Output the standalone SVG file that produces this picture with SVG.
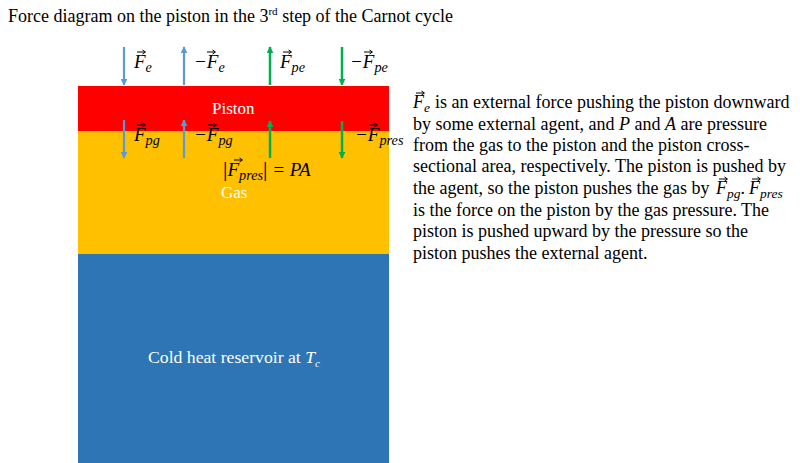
<svg xmlns="http://www.w3.org/2000/svg" width="800" height="463" viewBox="0 0 800 463">
<defs>
<marker id="hb" viewBox="0 0 10 10" refX="9" refY="5" markerWidth="7" markerHeight="7" markerUnits="userSpaceOnUse" orient="auto"><path d="M0,0 L10,5 L0,10 z" fill="#5B9BD5"/></marker>
<marker id="hg" viewBox="0 0 10 10" refX="9" refY="5" markerWidth="7" markerHeight="7" markerUnits="userSpaceOnUse" orient="auto"><path d="M0,0 L10,5 L0,10 z" fill="#00B050"/></marker>
<path id="vec" d="M0,0 H8 M5.5,-2 L8.5,0 L5.5,2" stroke="#000" stroke-width="1" fill="none"/>
</defs>
<style>
.t{font-family:"Liberation Serif",serif;fill:#000}
.w{font-family:"Liberation Serif",serif;fill:#fff}
.m{font-family:"Liberation Serif",serif;font-style:italic;fill:#000}
.bl{stroke:#5B9BD5;stroke-width:2.2;fill:none}
.gr{stroke:#00B050;stroke-width:2.5;fill:none}
.s{font-size:75%}
</style>
<rect width="800" height="463" fill="#fff"/>
<text class="t" x="8" y="22" font-size="18">Force diagram on the piston in the 3<tspan font-size="11" dy="-7">rd</tspan><tspan dy="7"> step of the Carnot cycle</tspan></text>
<g id="reservoir"><rect x="78" y="254" width="311" height="209" fill="#2E75B6"/><text class="w" x="148" y="363" font-size="17.7">Cold heat reservoir at <tspan font-style="italic">T</tspan><tspan font-style="italic" font-size="11" dy="4">c</tspan></text></g>
<g id="gas"><rect x="78" y="131" width="311" height="123" fill="#FFC000"/><text class="w" x="221" y="198" font-size="17">Gas</text></g>
<g id="piston"><rect x="78" y="86" width="311" height="45" fill="#FF0000"/><text class="w" x="212" y="114" font-size="17">Piston</text></g>
<g id="connectors">
<line class="bl" x1="124" y1="47" x2="124" y2="85" marker-end="url(#hb)"/>
<line class="bl" x1="184" y1="85" x2="184" y2="47" marker-end="url(#hb)"/>
<line class="gr" x1="270" y1="85" x2="270" y2="47" marker-end="url(#hg)"/>
<line class="gr" x1="342" y1="47" x2="342" y2="85" marker-end="url(#hg)"/>
<line class="bl" x1="124" y1="120" x2="124" y2="158" marker-end="url(#hb)"/>
<line class="bl" x1="184" y1="158" x2="184" y2="120" marker-end="url(#hb)"/>
<line class="gr" x1="270" y1="158" x2="270" y2="121" marker-end="url(#hg)"/>
<line class="gr" x1="342" y1="121" x2="342" y2="158" marker-end="url(#hg)"/>
</g>
<g id="labels" font-size="19">
<text class="m" x="134" y="68">F<tspan class="s" dy="4">e</tspan></text><use href="#vec" x="137" y="52"/>
<text class="m" x="194" y="68">−F<tspan class="s" dy="4">e</tspan></text><use href="#vec" x="207" y="52"/>
<text class="m" x="280" y="68">F<tspan class="s" dy="4">pe</tspan></text><use href="#vec" x="283" y="52"/>
<text class="m" x="350" y="68">−F<tspan class="s" dy="4">pe</tspan></text><use href="#vec" x="364" y="52"/>
<text class="m" x="134" y="141">F<tspan class="s" dy="4">pg</tspan></text><use href="#vec" x="137" y="125"/>
<text class="m" x="194" y="141">−F<tspan class="s" dy="4">pg</tspan></text><use href="#vec" x="208" y="125"/>
<text class="m" x="355" y="141">−F<tspan class="s" dy="4">pres</tspan></text><use href="#vec" x="369" y="125"/>
<text class="m" x="223" y="176"><tspan font-size="22" font-style="normal">|</tspan>F<tspan class="s" dy="4">pres</tspan><tspan font-size="22" font-style="normal" dy="-4">|</tspan> = PA</text><use href="#vec" x="234" y="160"/>
</g>
<g id="description" class="t" font-size="18">
<text class="m" x="413" y="108">F<tspan class="s" dy="4">e</tspan></text><use href="#vec" x="416" y="93"/>
<text x="435" y="108">is an external force pushing the piston downward</text>
<text x="413" y="129.5">by some external agent, and <tspan font-style="italic">P</tspan> and <tspan font-style="italic">A</tspan> are pressure</text>
<text x="413" y="150.5">from the gas to the piston and the piston cross-</text>
<text x="413" y="171.5">sectional area, respectively. The piston is pushed by</text>
<text x="413" y="194">the agent, so the piston pushes the gas by</text>
<text class="m" x="716" y="194">F<tspan class="s" dy="4">pg</tspan><tspan font-style="normal" dy="-4">.</tspan></text><use href="#vec" x="719" y="179"/>
<text class="m" x="749" y="194">F<tspan class="s" dy="4">pres</tspan></text><use href="#vec" x="752" y="179"/>
<text x="413" y="215.5">is the force on the piston by the gas pressure. The</text>
<text x="413" y="237">piston is pushed upward by the pressure so the</text>
<text x="413" y="258.5">piston pushes the external agent.</text>
</g>
</svg>
